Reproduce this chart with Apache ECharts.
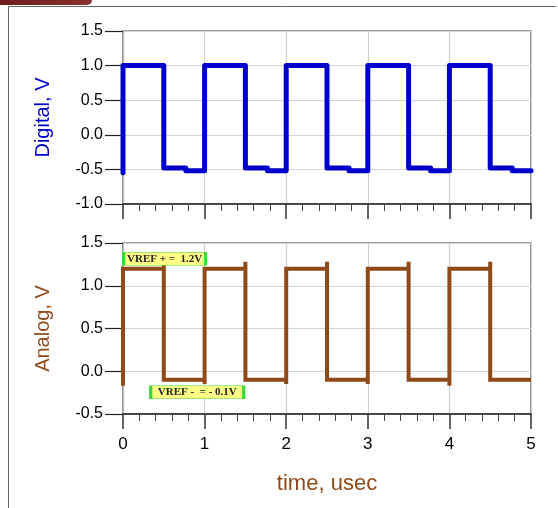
<!DOCTYPE html>
<html><head><meta charset="utf-8">
<script src="https://cdn.jsdelivr.net/npm/echarts@6/dist/echarts.min.js"></script>
<style>html,body{margin:0;padding:0;background:#fff}#c{width:558px;height:508px}</style>
</head><body><div id="c"></div>
<script>
// time axis (usec)
const xTicks = [0, 1, 2, 3, 4, 5];
const digitalTicks = [-1.0, -0.5, 0.0, 0.5, 1.0, 1.5];
const analogTicks = [-0.5, 0.0, 0.5, 1.0, 1.5];

// Digital waveform
const digitalT = [0,0,0.5,0.5,0.77,0.77,1,1,1.5,1.5,1.77,1.77,2,2,2.5,2.5,2.77,2.77,3,3,3.5,3.5,3.77,3.77,4,4,4.5,4.5,4.77,4.77,5];
const digitalV = [-0.55,1.0,1.0,-0.48,-0.48,-0.52,-0.52,1.0,1.0,-0.48,-0.48,-0.52,-0.52,1.0,1.0,-0.48,-0.48,-0.52,-0.52,1.0,1.0,-0.48,-0.48,-0.52,-0.52,1.0,1.0,-0.48,-0.48,-0.52,-0.52];

// Analog waveform
const analogT = [0,0,0.5,0.5,0.5,1,1,1,1.5,1.5,1.5,2,2,2,2.5,2.5,2.5,3,3,3,3.5,3.5,3.5,4,4,4,4.5,4.5,4.5,5];
const analogV = [-0.17,1.2,1.2,1.28,-0.1,-0.1,-0.15,1.2,1.2,1.28,-0.1,-0.1,-0.15,1.2,1.2,1.28,-0.1,-0.1,-0.15,1.2,1.2,1.28,-0.1,-0.1,-0.17,1.2,1.2,1.28,-0.1,-0.1];

// Annotations
const annoText = ['VREF + =  1.2V', 'VREF -  = - 0.1V'];
const annoPos = [[0.51, 1.316], [0.91, -0.245]];

const blue = '#0000cc';
const brown = '#8f4a1a';
const font = 'Liberation Sans, Arial, sans-serif';

function pairs(t, v) { return t.map((x, i) => [x, v[i]]); }

function xAxisCfg(gridIndex, showLabels, name) {
  return {
    type: 'value', gridIndex, min: 0, max: 5, interval: 1,
    axisLine: { show: true, onZero: false, lineStyle: { color: '#222', width: 1.5 } },
    axisTick: { show: true, length: 15, lineStyle: { color: '#333', width: 1.5 } },
    minorTick: { show: true, splitNumber: 5, length: 7, lineStyle: { color: '#444' } },
    splitLine: { show: true, lineStyle: { color: '#cfcfcf', width: 1.2 } },
    axisLabel: { show: showLabels, margin: 22, color: '#000', fontFamily: font, fontSize: 17,
      formatter: v => xTicks.includes(v) ? String(v) : '' },
    name: name || '', nameLocation: 'middle', nameGap: 59,
    nameTextStyle: { color: brown, fontFamily: font, fontSize: 22 }
  };
}
function yAxisCfg(gridIndex, min, max, name, color) {
  return {
    type: 'value', gridIndex, min, max, interval: 0.5,
    axisLine: { show: true, onZero: false, lineStyle: { color: '#bbb', width: 1.2 } },
    axisTick: { show: true, length: 18, lineStyle: { color: '#222', width: 1.2 } },
    splitLine: { show: true, lineStyle: { color: '#d4d4d4', width: 1.2 } },
    axisLabel: { margin: 20, color: '#000', fontFamily: font, fontSize: 16,
      formatter: v => v.toFixed(1) },
    name, nameLocation: 'middle', nameGap: 70, nameRotate: 90,
    nameTextStyle: { color, fontFamily: font, fontSize: 20 }
  };
}

const chart = echarts.init(document.getElementById('c'), null, { renderer: 'canvas' });
chart.setOption({
  animation: false,
  backgroundColor: '#fff',
  graphic: [
    { type: 'rect', shape: { x: 0, y: 0, width: 92, height: 5, r: [0, 0, 6, 0] },
      style: { fill: new echarts.graphic.LinearGradient(0, 0, 1, 0, [{ offset: 0, color: '#6e1c1c' }, { offset: 1, color: '#8a3030' }]) } },
    { type: 'line', shape: { x1: 8.5, y1: 6.5, x2: 556, y2: 6.5 }, style: { stroke: '#666', lineWidth: 1 } },
    { type: 'line', shape: { x1: 8.5, y1: 6.5, x2: 8.5, y2: 508 }, style: { stroke: '#666', lineWidth: 1 } }
  ],
  grid: [
    { left: 123, right: 27, top: 31, height: 173, show: true, borderColor: '#444', borderWidth: 1.2 },
    { left: 123, right: 27, top: 243, height: 171, show: true, borderColor: '#444', borderWidth: 1.2 }
  ],
  xAxis: [xAxisCfg(0, false), xAxisCfg(1, true, 'time, usec')],
  yAxis: [yAxisCfg(0, -1, 1.5, 'Digital, V', blue), yAxisCfg(1, -0.5, 1.5, 'Analog, V', brown)],
  series: [
    { type: 'line', xAxisIndex: 0, yAxisIndex: 0, data: pairs(digitalT, digitalV), showSymbol: false,
      lineStyle: { color: blue, width: 5, join: 'round', cap: 'round' } },
    { type: 'line', xAxisIndex: 1, yAxisIndex: 1, data: pairs(analogT, analogV), showSymbol: false,
      lineStyle: { color: brown, width: 4, join: 'miter' },
      markPoint: {
        symbol: 'rect', symbolSize: [82, 13],
        itemStyle: { color: '#ffff88', borderColor: '#33dd33', borderWidth: 1.2 },
        label: { show: true, position: 'inside', color: '#222', fontFamily: 'Liberation Serif, Times New Roman, serif',
          fontWeight: 'bold', fontSize: 11 },
        data: annoText.map((t, i) => ({ coord: annoPos[i], value: t, label: { formatter: t },
          symbolSize: i === 0 ? [82, 13] : [93, 13] }))
      } }
  ]
});
</script></body></html>
